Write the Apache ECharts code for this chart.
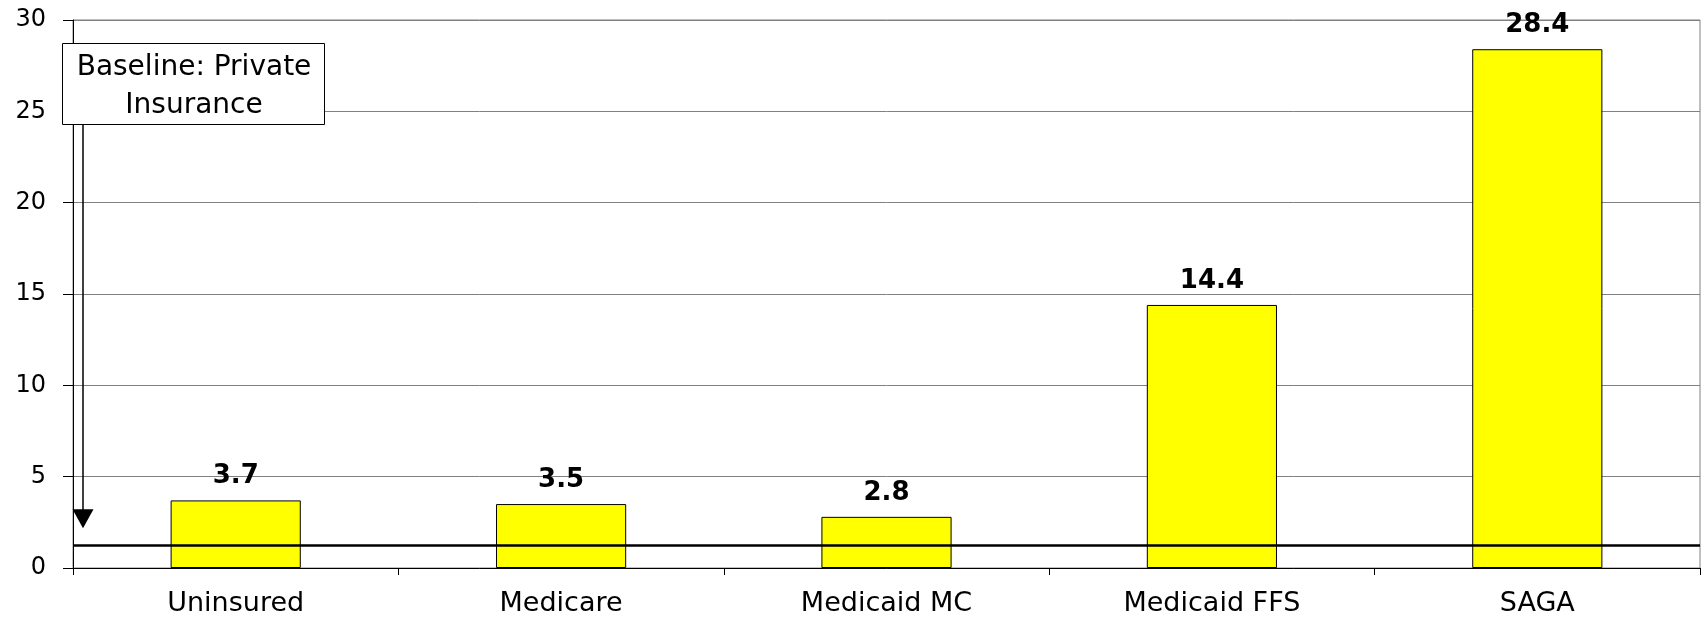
<!DOCTYPE html>
<html>
<head>
<meta charset="utf-8">
<script src="https://cdn.jsdelivr.net/npm/echarts@6/dist/echarts.min.js"></script>
<style>
  html, body { margin: 0; padding: 0; background: #fff; }
  #chart { width: 1704px; height: 617px; }
</style>
</head>
<body>
<div id="chart"></div>
<script>
// Insurance groups and their values relative to private insurance
const categories = ['Uninsured', 'Medicare', 'Medicaid MC', 'Medicaid FFS', 'SAGA'];
const values = [3.7, 3.5, 2.8, 14.4, 28.4];
// Reference level drawn for private insurance
const baselineValue = [1.25];
const baselineText = ['Baseline: Private', 'Insurance'];
const yTicks = [0, 5, 10, 15, 20, 25, 30];

const chart = echarts.init(document.getElementById('chart'), null, { renderer: 'canvas' });

const option = {
  animation: false,
  backgroundColor: '#ffffff',
  grid: {
    left: 73, right: 4, top: 20, bottom: 47,
    show: true, borderColor: '#808080', borderWidth: 1, backgroundColor: 'transparent'
  },
  xAxis: {
    type: 'category',
    data: categories,
    boundaryGap: true,
    axisLine: { show: true, lineStyle: { color: '#000', width: 1 } },
    axisTick: { show: true, length: 7, lineStyle: { color: '#000' } },
    axisLabel: {
      color: '#000', fontFamily: 'DejaVu Sans', fontSize: 27, margin: 22
    },
    splitLine: { show: false }
  },
  yAxis: {
    type: 'value',
    min: yTicks[0],
    max: yTicks[yTicks.length - 1],
    interval: yTicks[1] - yTicks[0],
    axisLine: { show: true, lineStyle: { color: '#000', width: 1 } },
    axisTick: { show: true, length: 10, inside: false, lineStyle: { color: '#000' } },
    axisLabel: {
      color: '#000', fontFamily: 'DejaVu Sans', fontSize: 24, margin: 27
    },
    splitLine: { show: true, lineStyle: { color: '#808080', width: 1 } }
  },
  series: [{
    type: 'bar',
    data: values,
    barWidth: '40%',
    itemStyle: { color: '#ffff00', borderColor: '#000', borderWidth: 1 },
    label: {
      show: true, position: 'top', distance: 11,
      color: '#000', fontFamily: 'DejaVu Sans', fontWeight: 'bold', fontSize: 26,
      formatter: p => p.value.toFixed(1)
    },
    markLine: {
      silent: true,
      symbol: ['none', 'none'],
      label: { show: false },
      lineStyle: { color: '#000', width: 2.5, type: 'solid' },
      data: [{ yAxis: baselineValue[0] }]
    }
  }]
};

chart.setOption(option);

// Annotation box with an arrow pointing down to the baseline
const gridLeftX = 73;
const baseY = chart.convertToPixel({ yAxisIndex: 0 }, baselineValue[0]);
const boxX = gridLeftX - 11, boxY = 43, boxW = 262, boxH = 81;
const arrowX = gridLeftX + 10;
const tipY = baseY - 17;
const headH = 19, headHalf = 10.5;

chart.setOption({
  graphic: [
    {
      type: 'line', z: 100,
      shape: { x1: arrowX, y1: boxY + boxH, x2: arrowX, y2: tipY - headH + 1 },
      style: { stroke: '#000', lineWidth: 1.5 }
    },
    {
      type: 'polygon', z: 100,
      shape: { points: [[arrowX - headHalf, tipY - headH], [arrowX + headHalf, tipY - headH], [arrowX, tipY]] },
      style: { fill: '#000' }
    },
    {
      type: 'rect', z: 100,
      shape: { x: boxX + 0.5, y: boxY + 0.5, width: boxW, height: boxH },
      style: { fill: '#fff', stroke: '#000', lineWidth: 1 }
    },
    {
      type: 'text', z: 101,
      style: {
        x: boxX + boxW / 2 + 1, y: boxY + 25,
        text: baselineText[0], fill: '#000',
        font: '28px "DejaVu Sans"', align: 'center', verticalAlign: 'middle'
      }
    },
    {
      type: 'text', z: 101,
      style: {
        x: boxX + boxW / 2 + 1, y: boxY + 63,
        text: baselineText[1], fill: '#000',
        font: '28px "DejaVu Sans"', align: 'center', verticalAlign: 'middle'
      }
    }
  ]
});
</script>
</body>
</html>
